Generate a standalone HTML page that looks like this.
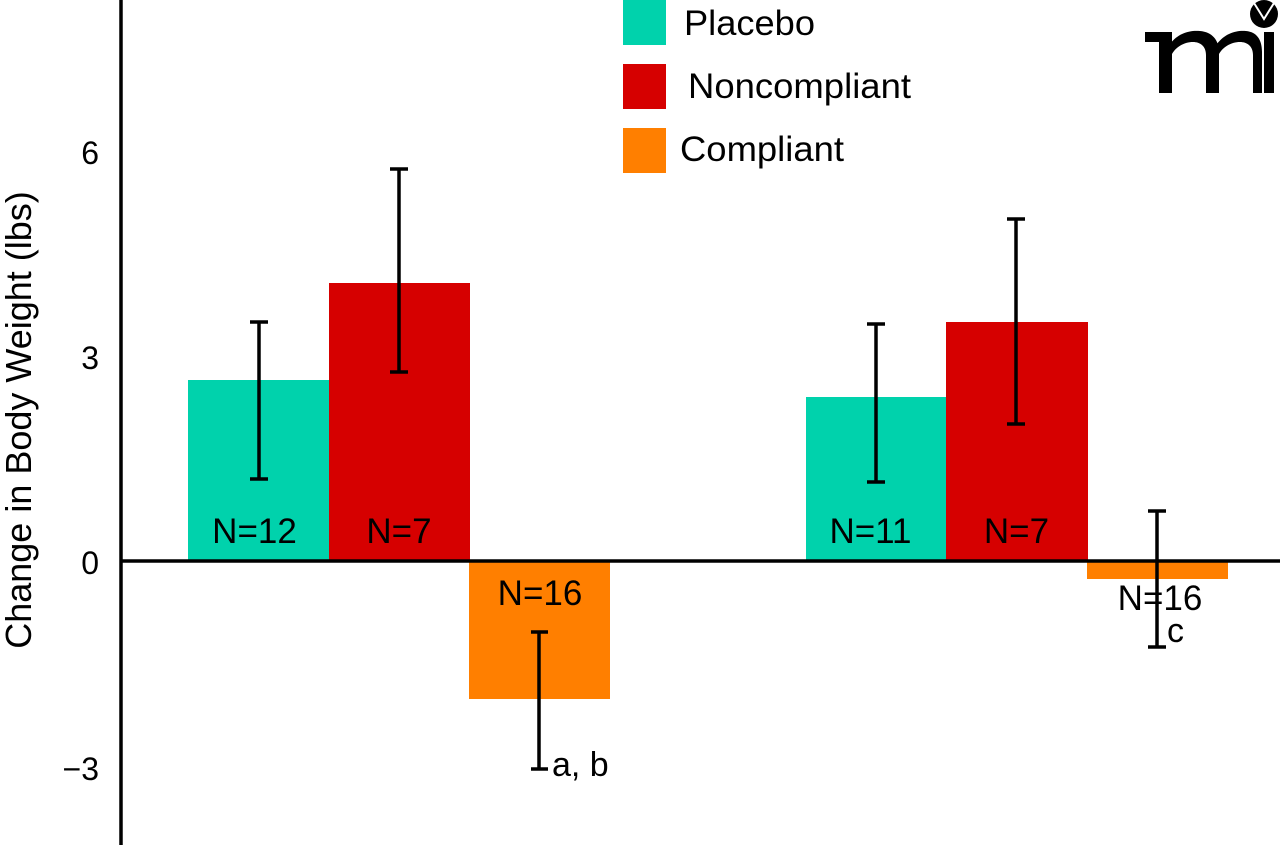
<!DOCTYPE html>
<html>
<head>
<meta charset="utf-8">
<style>
html,body{margin:0;padding:0;background:#fff;}
svg{display:block;}
text{font-family:"Liberation Sans",Arial,Helvetica,sans-serif;fill:#000;}
</style>
</head>
<body>
<svg width="1280" height="845" viewBox="0 0 1280 845" xmlns="http://www.w3.org/2000/svg">
  <rect x="0" y="0" width="1280" height="845" fill="#fff"/>

  <!-- Bars: left group -->
  <rect x="188" y="380" width="141" height="181" fill="#00d2ac"/>
  <rect x="329" y="283" width="141" height="278" fill="#d60000"/>
  <rect x="469" y="561" width="141" height="138" fill="#ff7f00"/>

  <!-- Bars: right group -->
  <rect x="806" y="397" width="140" height="164" fill="#00d2ac"/>
  <rect x="946" y="322" width="142" height="239" fill="#d60000"/>
  <rect x="1087" y="561" width="141" height="18" fill="#ff7f00"/>

  <!-- Axes -->
  <line x1="121" y1="0" x2="121" y2="845" stroke="#000" stroke-width="3.5"/>
  <line x1="121" y1="561" x2="1280" y2="561" stroke="#000" stroke-width="3.5"/>

  <!-- Error bars -->
  <g stroke="#000" stroke-width="3.5" fill="none">
    <line x1="259" y1="322" x2="259" y2="479"/>
    <line x1="250" y1="322" x2="268" y2="322"/>
    <line x1="250" y1="479" x2="268" y2="479"/>

    <line x1="399" y1="169" x2="399" y2="372"/>
    <line x1="390" y1="169" x2="408" y2="169"/>
    <line x1="390" y1="372" x2="408" y2="372"/>

    <line x1="539" y1="632" x2="539" y2="769"/>
    <line x1="531" y1="632" x2="548" y2="632"/>
    <line x1="531" y1="769" x2="548" y2="769"/>

    <line x1="876" y1="324" x2="876" y2="482"/>
    <line x1="867" y1="324" x2="885" y2="324"/>
    <line x1="867" y1="482" x2="885" y2="482"/>

    <line x1="1016" y1="219" x2="1016" y2="424"/>
    <line x1="1007" y1="219" x2="1025" y2="219"/>
    <line x1="1007" y1="424" x2="1025" y2="424"/>

    <line x1="1157" y1="511" x2="1157" y2="647"/>
    <line x1="1148" y1="511" x2="1166" y2="511"/>
    <line x1="1148" y1="647" x2="1166" y2="647"/>
  </g>

  <!-- N labels -->
  <g font-size="35" text-anchor="middle">
    <text x="254.5" y="543">N=12</text>
    <text x="399" y="543">N=7</text>
    <text x="540" y="605">N=16</text>
    <text x="870.5" y="543">N=11</text>
    <text x="1016.5" y="543">N=7</text>
    <text x="1160" y="610">N=16</text>
  </g>
  <text x="552" y="776" font-size="34">a, b</text>
  <text x="1167" y="642" font-size="34">c</text>

  <!-- Y tick labels -->
  <g font-size="32" text-anchor="end">
    <text x="99" y="164">6</text>
    <text x="99" y="369">3</text>
    <text x="99" y="574">0</text>
    <text x="99" y="780">−3</text>
  </g>

  <!-- Y axis title -->
  <text transform="translate(31,420) rotate(-90)" font-size="36" text-anchor="middle">Change in Body Weight (lbs)</text>

  <!-- Legend -->
  <rect x="623" y="0" width="43" height="45" fill="#00d2ac"/>
  <rect x="623" y="64" width="43" height="45" fill="#d60000"/>
  <rect x="623" y="128" width="43" height="45" fill="#ff7f00"/>
  <g font-size="35">
    <text x="684" y="35" textLength="131" lengthAdjust="spacingAndGlyphs">Placebo</text>
    <text x="688" y="98" textLength="223" lengthAdjust="spacingAndGlyphs">Noncompliant</text>
    <text x="680" y="161" textLength="164" lengthAdjust="spacingAndGlyphs">Compliant</text>
  </g>

  <!-- mi logo -->
  <g fill="#000">
    <rect x="1145" y="32" width="26" height="10"/>
    <rect x="1159" y="32" width="13" height="61"/>
    <path d="M1170 44 C1178 33 1190 30 1200 31 C1212 32 1219 40 1219 52 L1219 93 L1206 93 L1206 55 C1206 46 1200 42 1193 42 C1184 42 1176 47 1172 54 Z"/>
    <path d="M1217 44 C1225 33 1237 30 1246 31 C1257 32 1262 40 1262 52 L1262 93 L1253 93 L1253 55 C1253 46 1247 42 1240 42 C1231 42 1223 47 1219 54 Z"/>
    <rect x="1264" y="32" width="10" height="61"/>
    <circle cx="1264" cy="14" r="14"/>
  </g>
  <polyline points="1254,3 1264,19 1274,3" fill="none" stroke="#fff" stroke-width="2"/>
</svg>
</body>
</html>
